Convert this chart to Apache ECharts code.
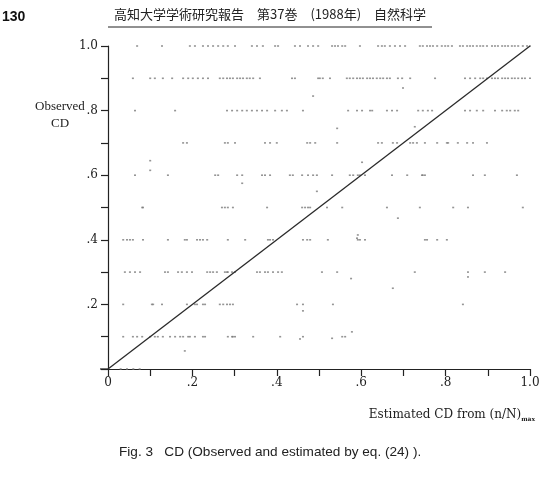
<!DOCTYPE html>
<html><head><meta charset="utf-8">
<script src="https://cdn.jsdelivr.net/npm/echarts@6/dist/echarts.min.js"></script>
<style>html,body{margin:0;padding:0;background:#fff}#c{width:547px;height:502px}</style>
</head><body><div id="c"></div>
<script>
// Observed CD levels and estimated CD values (x) at each level
const row10 = [0.069,0.128,0.194,0.206,0.225,0.237,0.249,0.261,0.273,0.284,0.301,0.341,0.353,0.367,0.396,0.403,0.443,0.455,0.474,0.486,0.498,0.531,0.538,0.545,0.555,0.562,0.597,0.640,0.649,0.656,0.668,0.680,0.692,0.704,0.739,0.746,0.756,0.763,0.770,0.780,0.791,0.799,0.806,0.815,0.834,0.841,0.851,0.858,0.865,0.874,0.882,0.889,0.898,0.910,0.917,0.924,0.934,0.941,0.948,0.957,0.964,0.972,0.983,0.993,1.0];
const row09 = [0.059,0.100,0.111,0.130,0.152,0.178,0.190,0.201,0.213,0.225,0.237,0.265,0.273,0.282,0.289,0.296,0.306,0.313,0.320,0.329,0.336,0.344,0.360,0.436,0.443,0.498,0.502,0.509,0.526,0.566,0.573,0.581,0.590,0.597,0.604,0.614,0.621,0.628,0.637,0.645,0.652,0.661,0.668,0.687,0.697,0.716,0.775,0.846,0.858,0.870,0.882,0.889,0.898,0.910,0.917,0.924,0.934,0.941,0.948,0.957,0.964,0.972,0.981,0.988,1.0];
const row08 = [0.064,0.159,0.282,0.294,0.306,0.318,0.329,0.341,0.353,0.365,0.377,0.396,0.412,0.424,0.462,0.569,0.590,0.602,0.621,0.626,0.661,0.673,0.685,0.735,0.746,0.758,0.768,0.846,0.858,0.874,0.889,0.917,0.934,0.945,0.953,0.964,0.972];
const row07 = [0.178,0.187,0.277,0.284,0.301,0.372,0.384,0.400,0.472,0.479,0.491,0.543,0.640,0.649,0.675,0.685,0.716,0.723,0.732,0.751,0.780,0.803,0.806,0.829,0.851,0.865,0.898];
const row06 = [0.064,0.142,0.254,0.261,0.306,0.318,0.365,0.372,0.384,0.431,0.438,0.460,0.474,0.486,0.495,0.531,0.573,0.581,0.592,0.597,0.609,0.673,0.709,0.744,0.746,0.751,0.865,0.893,0.969];
const row05 = [0.081,0.083,0.270,0.277,0.284,0.296,0.377,0.460,0.467,0.474,0.479,0.519,0.555,0.661,0.739,0.818,0.853,0.983];
const row04 = [0.036,0.045,0.052,0.059,0.083,0.142,0.182,0.187,0.211,0.218,0.225,0.235,0.284,0.325,0.379,0.384,0.391,0.462,0.472,0.479,0.521,0.592,0.597,0.609,0.751,0.756,0.780,0.803];
const row03 = [0.040,0.052,0.064,0.076,0.135,0.142,0.166,0.175,0.187,0.199,0.235,0.242,0.249,0.258,0.277,0.282,0.284,0.294,0.301,0.353,0.360,0.372,0.379,0.391,0.403,0.412,0.507,0.543,0.727,0.853,0.893,0.941];
const row02 = [0.036,0.104,0.107,0.128,0.187,0.206,0.211,0.225,0.230,0.265,0.273,0.282,0.289,0.296,0.448,0.462,0.533,0.841];
const row01 = [0.036,0.059,0.069,0.081,0.100,0.111,0.118,0.130,0.147,0.159,0.171,0.178,0.190,0.194,0.206,0.225,0.230,0.284,0.294,0.296,0.301,0.344,0.408,0.462];
const row00 = [0.030,0.045,0.060,0.075];
const levels = [1.0,0.9,0.8,0.7,0.6,0.5,0.4,0.3,0.2,0.1,0.0];
const rows = [row10,row09,row08,row07,row06,row05,row04,row03,row02,row01,row00];
// off-level points [estimated, observed]
const strayX = [0.486,0.699,0.543,0.727,0.100,0.100,0.602,0.318,0.495,0.687,0.592,0.590,0.576,0.675,0.853,0.462,0.455,0.182,0.531,0.555,0.562,0.578];
const strayY = [0.845,0.870,0.745,0.750,0.645,0.615,0.640,0.575,0.550,0.467,0.415,0.405,0.280,0.250,0.285,0.180,0.093,0.056,0.095,0.100,0.100,0.115];
const lineX = [0, 1];
const lineY = [0, 1];
const xTicks = ['0','.2','.4','.6','.8','1.0'];
const yTicks = ['.2','.4','.6','.8','1.0'];

const pts = [];
rows.forEach((r,i)=>r.forEach(x=>pts.push([x, levels[i]])));
strayX.forEach((x,i)=>pts.push([x, strayY[i]]));

const serif = '"DejaVu Serif","Liberation Serif",serif';
const tserif = '"Liberation Serif",serif';
const chart = echarts.init(document.getElementById('c'));
function lab(v, arr, withZero){
  const k = Math.round(v*10);
  if (k % 2 !== 0) return '';
  if (k === 0) return withZero ? arr[0] : '';
  return withZero ? arr[k/2] : arr[k/2-1];
}
chart.setOption({
  animation:false,
  grid:{left:108,right:17,top:46,bottom:133},
  xAxis:{type:'value',min:0,max:1,interval:0.1,
    axisLine:{lineStyle:{color:'#222',width:1.2}},
    axisTick:{length:7,lineStyle:{color:'#222',width:1.2}},
    splitLine:{show:false},
    axisLabel:{color:'#222',fontFamily:serif,fontSize:12,margin:8,showMaxLabel:true,
      formatter:v=>lab(v,xTicks,true)}},
  yAxis:{type:'value',min:0,max:1,interval:0.1,
    axisLine:{show:true,lineStyle:{color:'#222',width:1.2}},
    axisTick:{show:true,length:7,lineStyle:{color:'#222',width:1.2}},
    splitLine:{show:false},
    axisLabel:{color:'#222',fontFamily:serif,fontSize:12,margin:10,
      formatter:v=>lab(v,yTicks,false)}},
  series:[
    {type:'scatter',data:pts,symbol:'rect',symbolSize:[2,1.6],itemStyle:{color:'#7a7a7a'},silent:true},
    {type:'line',data:lineX.map((x,i)=>[x,lineY[i]]),symbol:'none',lineStyle:{color:'#2a2a2a',width:1.3},silent:true}
  ],
  graphic:[
    {type:'text',left:2,top:10,style:{text:'130',font:'bold 14px "Liberation Sans",Arial,sans-serif',fill:'#111'}},
    {type:'text',left:114,top:8,style:{text:'高知大学学術研究報告　第37巻　(1988年)　自然科学',font:'13px "Noto Sans CJK JP",sans-serif',fill:'#222'}},
    {type:'line',shape:{x1:108,y1:27,x2:432,y2:27},style:{stroke:'#222',lineWidth:1}},
    {type:'text',left:35,top:100,style:{text:'Observed',font:'13px '+tserif,fill:'#222'}},
    {type:'text',left:51,top:117,style:{text:'CD',font:'13px '+tserif,fill:'#222'}},
    {type:'line',shape:{x1:100,y1:369,x2:108,y2:369},style:{stroke:'#222',lineWidth:1.2}},
    {type:'text',right:12,top:409,style:{text:'Estimated CD from (n/N){s|max}',
      rich:{s:{font:'bold 6px '+serif,fill:'#222',padding:[8,0,0,0]}},font:'12px '+serif,fill:'#222'}},
    {type:'text',left:119,top:445,style:{text:'Fig. 3   CD (Observed and estimated by eq. (24) ).',font:'13.6px "Liberation Sans",Arial,sans-serif',fill:'#222'}}
  ]
});
</script></body></html>
